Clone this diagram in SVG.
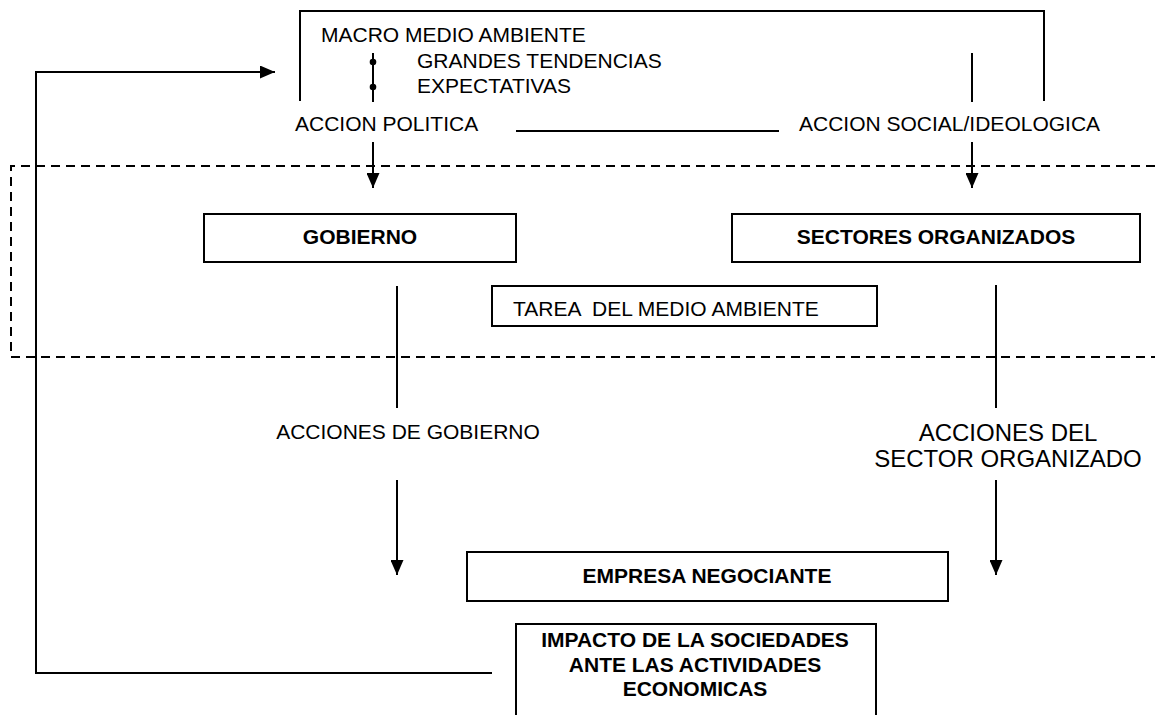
<svg xmlns="http://www.w3.org/2000/svg" width="1155" height="715" viewBox="0 0 1155 715">
  <style>
    .t { font-family: "Liberation Sans", Arial, sans-serif; font-size: 21px; fill: #000; }
    .b { font-weight: bold; }
    .c { text-anchor: middle; }
    .big { font-size: 24px; }
    .box { fill: #fff; stroke: #000; stroke-width: 2; }
    .ln { fill: none; stroke: #000; stroke-width: 2; }
    .dash { fill: none; stroke: #000; stroke-width: 2; stroke-dasharray: 9 6; }
  </style>
  <defs>
    <marker id="ah" viewBox="0 0 15 13" refX="15" refY="6.5" markerWidth="15" markerHeight="13" markerUnits="userSpaceOnUse" orient="auto">
      <path d="M0,0 L15,6.5 L0,13 z" fill="#000"/>
    </marker>
  </defs>
  <rect width="1155" height="715" fill="#fff"/>

  <g id="connectors">
    <!-- dashed environment boundary -->
    <path class="dash" d="M1155,166 L11,166 L11,357 L1155,357"/>
    <!-- macro environment bracket -->
    <path class="ln" d="M300,101 L300,11 L1044,11 L1044,101"/>
    <!-- bullet line -->
    <line class="ln" x1="373" y1="53" x2="373" y2="102"/>
    <circle cx="373" cy="62" r="3.3" fill="#000"/>
    <circle cx="373" cy="87" r="3.3" fill="#000"/>
    <!-- right short line -->
    <line class="ln" x1="972" y1="53" x2="972" y2="102"/>
    <!-- line between actions -->
    <line class="ln" x1="516" y1="131" x2="779" y2="131"/>
    <!-- arrows down to boxes -->
    <line class="ln" x1="373" y1="142" x2="373" y2="188" marker-end="url(#ah)"/>
    <line class="ln" x1="972" y1="142" x2="972" y2="188" marker-end="url(#ah)"/>
    <!-- gobierno down -->
    <line class="ln" x1="397" y1="286" x2="397" y2="408"/>
    <line class="ln" x1="397" y1="480" x2="397" y2="575" marker-end="url(#ah)"/>
    <!-- sectores down -->
    <line class="ln" x1="996" y1="285" x2="996" y2="408"/>
    <line class="ln" x1="996" y1="480" x2="996" y2="575" marker-end="url(#ah)"/>
    <!-- feedback loop -->
    <path class="ln" d="M492,673 L36,673 L36,72 L275,72" marker-end="url(#ah)"/>
  </g>

  <g id="macro">
    <text class="t" x="321" y="42">MACRO MEDIO AMBIENTE</text>
    <text class="t" x="417" y="68">GRANDES TENDENCIAS</text>
    <text class="t" x="417" y="93">EXPECTATIVAS</text>
  </g>
  <g id="accion-politica">
    <text class="t" x="295" y="131">ACCION POLITICA</text>
  </g>
  <g id="accion-social">
    <text class="t" x="799" y="131">ACCION SOCIAL/IDEOLOGICA</text>
  </g>

  <g id="gobierno">
    <rect class="box" x="204" y="214" width="312" height="48"/>
    <text class="t b c" x="360" y="244">GOBIERNO</text>
  </g>
  <g id="sectores">
    <rect class="box" x="732" y="214" width="408" height="48"/>
    <text class="t b c" x="936" y="244">SECTORES ORGANIZADOS</text>
  </g>
  <g id="tarea">
    <rect class="box" x="492" y="286" width="385" height="40"/>
    <text class="t" x="513" y="316" xml:space="preserve">TAREA  DEL MEDIO AMBIENTE</text>
  </g>

  <g id="acciones-gobierno">
    <text class="t c" x="408" y="439">ACCIONES DE GOBIERNO</text>
  </g>
  <g id="acciones-sector">
    <text class="t big c" x="1008" y="441">ACCIONES DEL</text>
    <text class="t big c" x="1008" y="467">SECTOR ORGANIZADO</text>
  </g>

  <g id="empresa">
    <rect class="box" x="467" y="552" width="481" height="49"/>
    <text class="t b c" x="707" y="583">EMPRESA NEGOCIANTE</text>
  </g>
  <g id="impacto">
    <rect class="box" x="516" y="624" width="360" height="100"/>
    <text class="t b c" x="695" y="647">IMPACTO DE LA SOCIEDADES</text>
    <text class="t b c" x="695" y="672">ANTE LAS ACTIVIDADES</text>
    <text class="t b c" x="695" y="696">ECONOMICAS</text>
  </g>
</svg>
